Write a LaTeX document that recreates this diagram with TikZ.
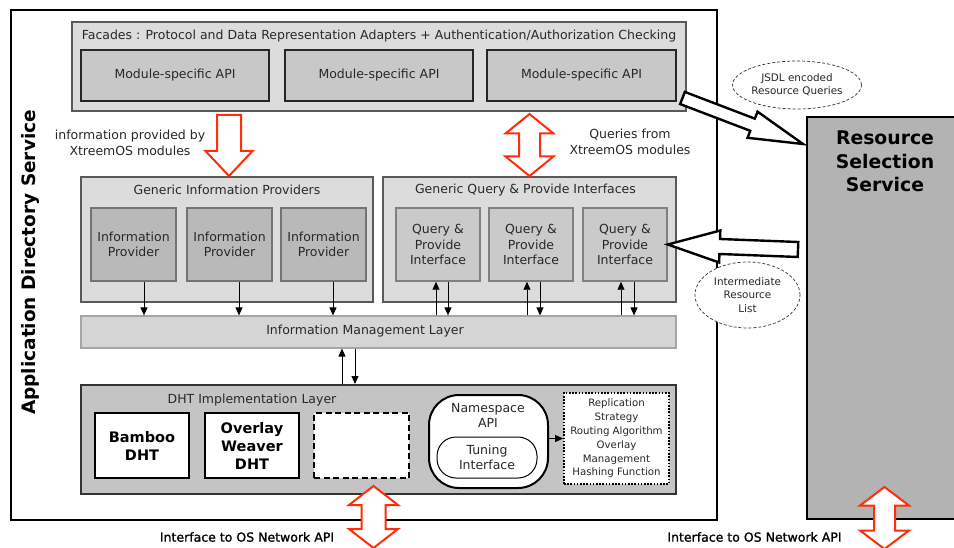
\documentclass[tikz,border=0pt]{standalone}
\usepackage{fontspec}
\setmainfont{DejaVu Sans}
\newfontfamily\semib[FakeBold=1.2]{DejaVu Sans}
\usetikzlibrary{calc,arrows.meta,shapes.geometric}
\definecolor{cFac}{RGB}{220,220,220}
\definecolor{cMod}{RGB}{200,200,200}
\definecolor{cIP}{RGB}{185,185,185}
\definecolor{cQP}{RGB}{202,202,202}
\definecolor{cIML}{RGB}{213,213,213}
\definecolor{cDHT}{RGB}{196,196,196}
\definecolor{cRSS}{RGB}{179,179,179}
\definecolor{cRed}{RGB}{255,45,10}
\definecolor{cTxt}{RGB}{40,40,40}
\newcommand\fatsingle[6]{% style, start, end, halfshaft, halfhead, headlen
  \coordinate (fahb) at ($(#3)!#6!(#2)$);
  \filldraw[#1] ($(#2)!#4!90:(#3)$) -- ($(fahb)!#4!90:(#3)$) -- ($(fahb)!#5!90:(#3)$) -- (#3)
    -- ($(fahb)!#5!-90:(#3)$) -- ($(fahb)!#4!-90:(#3)$) -- ($(#2)!#4!-90:(#3)$) -- cycle;}
\newcommand\fatdouble[6]{% style, start, end, halfshaft, halfhead, headlen
  \coordinate (fdha) at ($(#2)!#6!(#3)$);
  \coordinate (fdhb) at ($(#3)!#6!(#2)$);
  \filldraw[#1] (#2) -- ($(fdha)!#5!90:(#3)$) -- ($(fdha)!#4!90:(#3)$) -- ($(fdhb)!#4!90:(#3)$)
    -- ($(fdhb)!#5!90:(#3)$) -- (#3) -- ($(fdhb)!#5!-90:(#3)$) -- ($(fdhb)!#4!-90:(#3)$)
    -- ($(fdha)!#4!-90:(#3)$) -- ($(fdha)!#5!-90:(#3)$) -- cycle;}
\tikzset{
  txt/.style={font=\fontsize{12.5}{15.5}\selectfont, text=cTxt, align=center, inner sep=0pt},
  smalltxt/.style={font=\fontsize{10.4}{13.2}\selectfont, text=cTxt, align=center, inner sep=0pt},
  tinytxt/.style={font=\fontsize{10.2}{13.8}\selectfont, text=cTxt, align=center, inner sep=0pt},
  semitxt/.style={font=\semib\fontsize{12.5}{15}\selectfont, text=black, inner sep=0pt},
  bx/.style={rectangle, inner sep=0pt, anchor=center},
  facbox/.style={bx, draw=black!65, fill=cFac, line width=1.3pt},
  modbox/.style={bx, draw=black!85, fill=cMod, line width=1.5pt},
  ipbox/.style={bx, draw=black!55, fill=cIP, line width=1.5pt},
  qpbox/.style={bx, draw=black!50, fill=cQP, line width=1.5pt},
  imlbox/.style={bx, draw=black!35, fill=cIML, line width=1.2pt},
  dhtbox/.style={bx, draw=black!80, fill=cDHT, line width=2pt},
  implbox/.style={bx, draw=black, fill=white, line width=1.5pt, font=\fontsize{14.5}{18}\selectfont\bfseries, align=center},
  sarrow/.style={-{Triangle[length=8pt,width=7pt]}, line width=0.9pt, black},
  redfat/.style={draw=cRed, fill=white, line width=2pt, line join=miter},
  blackfat/.style={draw=black, fill=white, line width=2.4pt, line join=miter},
  bubble/.style={ellipse, draw=black!80, fill=white, densely dashed, line width=0.7pt, inner sep=0pt},
}
\begin{document}
\begin{tikzpicture}[x=1pt,y=-1pt]
\useasboundingbox (0,0) rectangle (954,548);
\clip (0,0) rectangle (954,548);
\fill[white] (0,0) rectangle (954,548);

% outer boxes
\node[bx, draw=black, line width=2.5pt, minimum width=706pt, minimum height=510pt] (ADS) at (364,265) {};
\node[font=\fontsize{18.5}{20}\selectfont\bfseries, rotate=90, inner sep=0pt] (ADSt) at (30,262.5) {Application Directory Service};
\node[bx, draw=black, fill=cRSS, line width=2.5pt, minimum width=170pt, minimum height=402pt] (RSS) at (892,318) {};
\node[font=\fontsize{18.8}{23.5}\selectfont\bfseries, align=center, inner sep=0pt, anchor=north] (RSSt) at (885,131) {Resource\\Selection\\Service};

% facades
\node[facbox, minimum width=614pt, minimum height=89pt] (FAC) at (379,66.5) {};
\node[txt] (FACt) at (379,36) {Facades : Protocol and Data Representation Adapters + Authentication/Authorization Checking};
\node[modbox, txt, minimum width=188pt, minimum height=51pt] (M1) at (175,75.5) {Module-specific API};
\node[modbox, txt, minimum width=188pt, minimum height=51pt] (M2) at (379,75.5) {Module-specific API};
\node[modbox, txt, minimum width=189pt, minimum height=51pt] (M3) at (581.5,75.5) {Module-specific API};

% generic information providers
\node[facbox, minimum width=292pt, minimum height=125pt] (GIP) at (227,239.5) {};
\node[txt] (GIPt) at (227,190) {Generic Information Providers};
\node[ipbox, txt, minimum width=85pt, minimum height=73pt] (IP1) at (133.5,244.5) {Information\\Provider};
\node[ipbox, txt, minimum width=85pt, minimum height=73pt] (IP2) at (229.5,244.5) {Information\\Provider};
\node[ipbox, txt, minimum width=85pt, minimum height=73pt] (IP3) at (323.5,244.5) {Information\\Provider};

% generic query & provide interfaces
\node[facbox, minimum width=293pt, minimum height=125pt] (GQP) at (529.5,239.5) {};
\node[txt] (GQPt) at (525.5,190) {Generic Query \& Provide Interfaces};
\node[qpbox, txt, minimum width=84pt, minimum height=73pt] (QP1) at (438,244.5) {Query \&\\Provide\\Interface};
\node[qpbox, txt, minimum width=84pt, minimum height=73pt] (QP2) at (531,244.5) {Query \&\\Provide\\Interface};
\node[qpbox, txt, minimum width=84pt, minimum height=73pt] (QP3) at (625,244.5) {Query \&\\Provide\\Interface};

% information management layer
\node[imlbox, minimum width=595pt, minimum height=32pt] (IML) at (378.5,332) {};
\node[txt] (IMLt) at (365,331) {Information Management Layer};

% DHT layer
\node[dhtbox, minimum width=595pt, minimum height=109pt] (DHT) at (378.5,439.5) {};
\node[txt] (DHTt) at (252,400) {DHT Implementation Layer};
\node[implbox, minimum width=94pt, minimum height=65pt] (BAM) at (142,445.5) {Bamboo\\DHT};
\node[implbox, minimum width=94pt, minimum height=65pt] (OW) at (252,445.5) {Overlay\\Weaver\\DHT};
\node[implbox, dash pattern=on 6pt off 3.5pt, minimum width=95pt, minimum height=65pt] (EMP) at (361.5,445.5) {};
\node[bx, draw=black, fill=white, line width=2pt, rounded corners=30pt, minimum width=119pt, minimum height=93pt] (NS) at (488.5,441.5) {};
\node[txt] (NSt) at (488,415.5) {Namespace\\API};
\node[bx, txt, draw=black, fill=white, line width=1pt, rounded corners=19pt, minimum width=100pt, minimum height=41pt] (TUN) at (487,457.5) {Tuning\\Interface};
\node[bx, tinytxt, draw=black, fill=white, line width=1.8pt, dash pattern=on 1.6pt off 1.6pt, minimum width=105pt, minimum height=91pt] (REP) at (616.5,438.5) {Replication\\Strategy\\Routing Algorithm\\Overlay\\Management\\Hashing Function};

% small arrows
\coordinate (xu) at (342,0);
\coordinate (xd) at (355,0);
\draw[sarrow] ([xshift=10.5pt]IP1.south) -- ([xshift=10.5pt]IP1.south |- IML.north);
\draw[sarrow] ([xshift=9.5pt]IP2.south) -- ([xshift=9.5pt]IP2.south |- IML.north);
\draw[sarrow] ([xshift=9.5pt]IP3.south) -- ([xshift=9.5pt]IP3.south |- IML.north);
\draw[sarrow] ([xshift=-2pt]QP1.south |- IML.north) -- ([xshift=-2pt]QP1.south);
\draw[sarrow] ([xshift=10pt]QP1.south) -- ([xshift=10pt]QP1.south |- IML.north);
\draw[sarrow] ([xshift=-4pt]QP2.south |- IML.north) -- ([xshift=-4pt]QP2.south);
\draw[sarrow] ([xshift=9pt]QP2.south) -- ([xshift=9pt]QP2.south |- IML.north);
\draw[sarrow] ([xshift=-4pt]QP3.south |- IML.north) -- ([xshift=-4pt]QP3.south);
\draw[sarrow] ([xshift=9pt]QP3.south) -- ([xshift=9pt]QP3.south |- IML.north);
\draw[sarrow] (DHT.north -| xu) -- (IML.south -| xu);
\draw[sarrow] (IML.south -| xd) -- (DHT.north -| xd);
\draw[sarrow] (REP.west -| NS.east) -- (REP.west);

% red fat arrows
\coordinate (r1a) at (229,115);
\coordinate (r1b) at (229,176);
\fatsingle{redfat}{r1a}{r1b}{12pt}{23.5pt}{25pt}
\coordinate (r2a) at (529.5,114);
\coordinate (r2b) at (529.5,176);
\fatdouble{redfat}{r2a}{r2b}{10.5pt}{24pt}{19.5pt}
\coordinate (r3a) at (373.5,486);
\coordinate (r3b) at (373.5,548);
\fatdouble{redfat}{r3a}{r3b}{12pt}{24.5pt}{19pt}
\coordinate (r4a) at (884.5,487);
\coordinate (r4b) at (884.5,549);
\fatdouble{redfat}{r4a}{r4b}{10.5pt}{24.5pt}{18.5pt}

% bubbles
\node[bubble, smalltxt, minimum width=120pt, minimum height=48pt] (JSDL) at (797,85) {JSDL encoded\\Resource Queries};
\node[bubble, smalltxt, minimum width=105pt, minimum height=66pt] (IRL) at (747.5,295) {Intermediate\\Resource\\List};

% black fat arrows
\coordinate (b1a) at (682.5,98);
\coordinate (b1t) at (803,144);
\fatsingle{blackfat}{b1a}{b1t}{6.5pt}{14pt}{54pt}
\coordinate (b2a) at (798,249.5);
\coordinate (b2b) at (QP3.east);
\fatsingle{blackfat}{b2a}{b2b}{7.5pt}{16pt}{52pt}

% labels
\node[txt] (L1) at (130,143) {information provided by\\XtreemOS modules};
\node[txt] (L2) at (630,142) {Queries from\\XtreemOS modules};
\node[semitxt] (L3) at (247,537) {Interface to OS Network API};
\node[semitxt] (L4) at (754.5,537) {Interface to OS Network API};
\end{tikzpicture}
\end{document}
